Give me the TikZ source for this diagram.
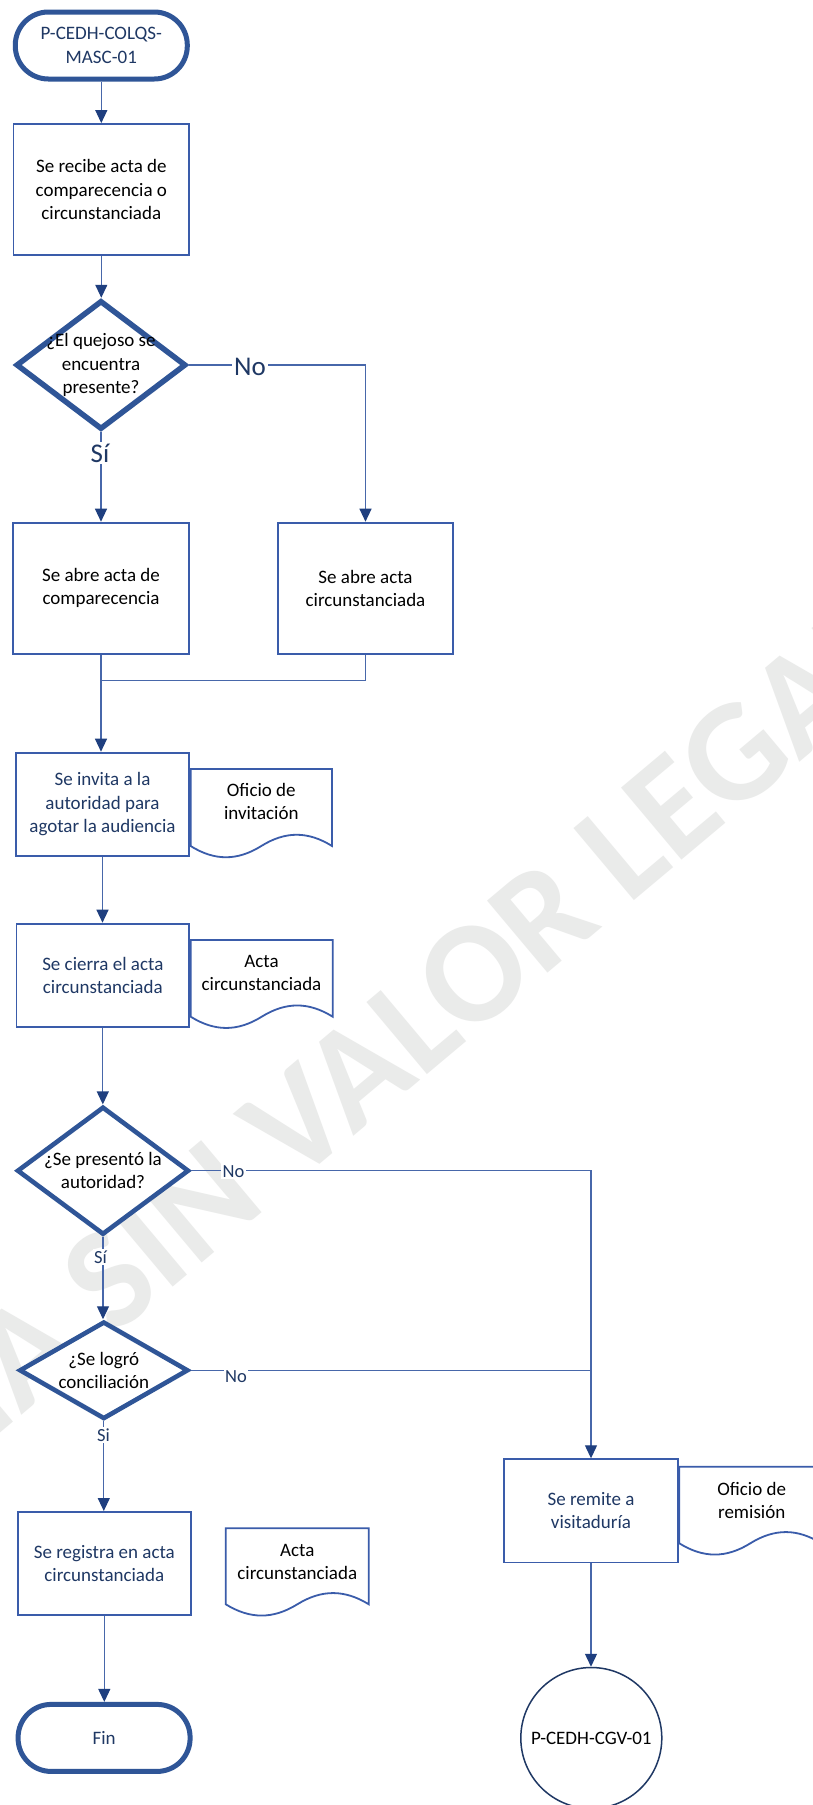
\documentclass[tikz,border=0pt]{standalone}
\usepackage{fontspec}
\setmainfont{Carlito}
\usetikzlibrary{arrows.meta,shapes.geometric}

\definecolor{boxblue}{HTML}{3A5CAA}
\definecolor{thickblue}{HTML}{2F5597}
\definecolor{linkblue}{HTML}{4767AA}
\definecolor{tipnavy}{HTML}{1F3F7F}
\definecolor{textnavy}{HTML}{1F3864}
\definecolor{marca}{HTML}{EAEBEA}

% document symbol: left x, right x, top y, y where the wavy bottom meets the sides
\newcommand{\flowdoc}[4]{%
  \draw[docline] (#1,#4) -- (#1,#3) -- (#2,#3) -- (#2,#4)
    .. controls ({#2-0.17*(#2-#1)},{#4-15}) and ({(#1+#2)/2+0.17*(#2-#1)},{#4-15}) .. ({(#1+#2)/2},#4)
    .. controls ({(#1+#2)/2-0.17*(#2-#1)},{#4+15}) and ({#1+0.17*(#2-#1)},{#4+15}) .. (#1,#4) -- cycle;}

\begin{document}
\begin{tikzpicture}[x=1pt,y=-1pt,
  every node/.style={font=\fontsize{19}{23.3}\selectfont, align=center},
  proc/.style={draw=boxblue, line width=1.8pt, rectangle, inner sep=0pt, fill=white},
  term/.style={draw=thickblue, line width=5pt, rectangle, rounded corners=33pt,
               inner sep=0pt, fill=white, minimum width=172pt, minimum height=67pt},
  decision/.style={draw=thickblue, diamond, inner sep=0pt, fill=white},
  conn/.style={draw=linkblue, line width=1.2pt},
  arr/.style={conn, -{Triangle[length=13pt,width=12pt,color=tipnavy]}},
  docline/.style={draw=boxblue, line width=1.8pt, fill=white},
  biglbl/.style={fill=white, text=textnavy, inner sep=2pt, font=\fontsize{27}{30}\selectfont},
  lbl/.style={fill=white, text=textnavy, inner sep=1.5pt, font=\fontsize{18.5}{21}\selectfont},
]
\useasboundingbox (0,0) rectangle (812,1805);
\fill[white] (0,0) rectangle (812,1805);

% watermark
\node[text=marca, font=\fontsize{145}{145}\selectfont\bfseries, rotate=40] (marca) at (326,1098) {COPIA SIN VALOR LEGAL};

% left column
\node[term, text=textnavy] (inicio) at (101.3,45.5) {P-CEDH-COLQS-\\MASC-01};
\node[proc, minimum width=175.5pt, minimum height=131pt] (recibe) at (101.3,189.5)
  {Se recibe acta de\\comparecencia o\\circunstanciada};
\node[decision, line width=5.5pt, minimum width=170pt, minimum height=129pt] (d1) at (101,365) {};
\node (d1t) at (d1) {¿El quejoso se\\encuentra\\presente?};

\node[proc, minimum width=175.4pt, minimum height=131.2pt] (abre1) at (101,588.2)
  {Se abre acta de\\comparecencia};
\node[proc, minimum width=175.2pt, minimum height=131.2pt] (abre2) at (365.5,588.2)
  {Se abre acta\\circunstanciada};

\node[proc, text=textnavy, minimum width=172.3pt, minimum height=103.2pt] (invita) at (102.5,804.2)
  {Se invita a la\\autoridad para\\agotar la audiencia};
\node[proc, text=textnavy, minimum width=172.5pt, minimum height=103.2pt] (cierra) at (102.8,975.2)
  {Se cierra el acta\\circunstanciada};

\node[decision, line width=4.6pt, minimum width=172pt, minimum height=128pt] (d2) at (103,1170.7) {};
\node (d2t) at (d2) {¿Se presentó la\\autoridad?};
\node[decision, line width=4.6pt, minimum width=169pt, minimum height=97.5pt] (d3) at (103.8,1370.3) {};
\node (d3t) at (d3) {¿Se logró\\conciliación};

\node[proc, text=textnavy, minimum width=172.8pt, minimum height=103.2pt] (registra) at (104.3,1563.5)
  {Se registra en acta\\circunstanciada};
\node[term, text=textnavy] (fin) at (104.1,1737.9) {Fin};

% right column
\node[proc, text=textnavy, minimum width=173.6pt, minimum height=103.2pt] (remite) at (591,1510.8)
  {Se remite a\\visitaduría};
\node[circle, draw=textnavy, line width=1.5pt, fill=white, minimum size=141pt, inner sep=0pt] (cgv)
  at (591.3,1738) {P-CEDH-CGV-01};

% documents
\flowdoc{190.6}{332}{769}{846}
\node (doc1) at (261.3,801.5) {Oficio de\\invitación};
\flowdoc{190.7}{332.7}{940}{1016.7}
\node (doc2) at (261.5,973) {Acta\\circunstanciada};
\flowdoc{225.8}{368.8}{1528.3}{1604.3}
\node (doc3) at (297.3,1562) {Acta\\circunstanciada};
\flowdoc{679.3}{821.3}{1466.7}{1543.3}
\node (doc4) at (751.7,1500.3) {Oficio de\\remisión};

% connectors
\draw[arr] (inicio.south) -- (inicio.south |- recibe.north);
\draw[arr] (recibe.south) -- (recibe.south |- d1.north);
\draw[arr] (d1.east) -| (abre2.north);
\draw[arr] (d1.south) -- (d1.south |- abre1.north);
\draw[arr] (abre1.south) -- (abre1.south |- invita.north);
\path (abre1.south) ++(0,26) coordinate (union);
\draw[conn] (abre2.south) |- (union);
\draw[arr] (invita.south) -- (invita.south |- cierra.north);
\draw[arr] (cierra.south) -- (cierra.south |- d2.north);
\draw[arr] (d2.east) -| (remite.north);
\draw[arr] (d2.south) -- (d2.south |- d3.north);
\draw[conn] (d3.east) -- (d3.east -| remite.north);
\draw[arr] (d3.south) -- (d3.south |- registra.north);
\draw[arr] (registra.south) -- (registra.south |- fin.north);
\draw[arr] (remite.south) -- (remite.south |- cgv.north);

% branch labels
\node[biglbl] (no1) at (250,367) {No};
\node[biglbl] (si1) at (100,453) {Sí};
\node[lbl] (no2) at (233.5,1171.5) {No};
\node[lbl] (si2) at (100.5,1257) {Sí};
\node[lbl] (no3) at (236,1377) {No};
\node[lbl] (si3) at (103.5,1435) {Si};
\end{tikzpicture}
\end{document}
